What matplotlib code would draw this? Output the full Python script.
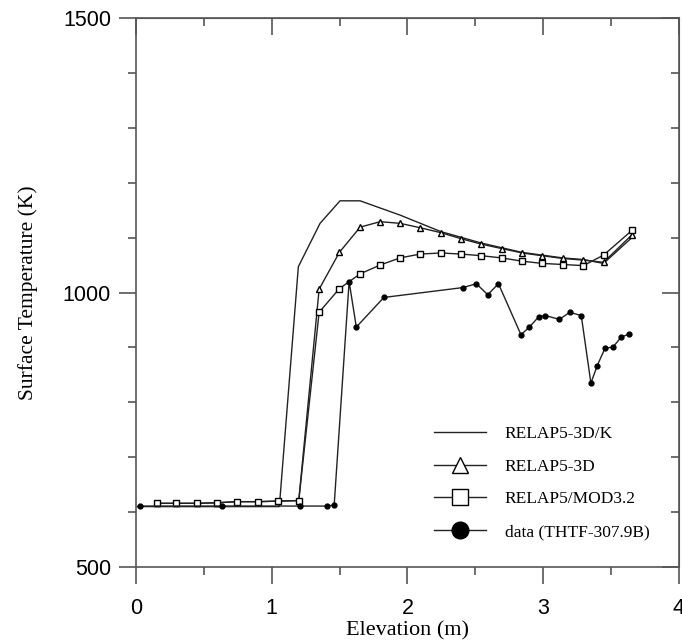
import matplotlib
matplotlib.use("Agg")
import matplotlib.pyplot as plt
from matplotlib.ticker import MultipleLocator

plt.rcParams['font.family'] = ['Liberation Sans', 'DejaVu Sans']

# RELAP5-3D/K (line only)
k_x = [0.01, 1.056, 1.196, 1.356, 1.503, 1.651, 1.945, 2.245, 2.545, 2.845,
       3.144, 3.296, 3.444, 3.653]
k_y = [610, 610, 1047, 1126, 1167, 1167, 1141, 1111, 1090, 1073,
       1063, 1060, 1053, 1100]

# node elevations of the code runs
node_x = [0.152, 0.295, 0.447, 0.594, 0.744, 0.897, 1.046, 1.199, 1.349, 1.498,
          1.651, 1.798, 1.945, 2.093, 2.245, 2.395, 2.545, 2.695, 2.845, 2.992,
          3.144, 3.296, 3.444, 3.653]
r3d_y = [616, 616, 616, 617, 619, 619, 620, 621, 1006, 1073,
         1119, 1129, 1126, 1118, 1109, 1098, 1088, 1080, 1072, 1067,
         1062, 1059, 1055, 1105]
mod32_y = [616, 616, 616, 617, 619, 619, 620, 621, 964, 1007,
           1034, 1050, 1063, 1070, 1072, 1070, 1067, 1063, 1057, 1053,
           1051, 1049, 1068, 1113]

# measured data THTF-307.9B
data_x = [0.03, 0.63, 1.21, 1.41, 1.46, 1.57, 1.623, 1.826, 2.409, 2.507,
          2.591, 2.670, 2.836, 2.897, 2.968, 3.016, 3.119, 3.195, 3.280, 3.351,
          3.398, 3.454, 3.515, 3.575, 3.631]
data_y = [611, 611, 611, 611, 613, 1020, 937, 991, 1009, 1016,
          996, 1016, 923, 937, 956, 958, 951, 964, 958, 835,
          867, 898, 901, 919, 924]

labels = ["RELAP5-3D/K", "RELAP5-3D", "RELAP5/MOD3.2", "data (THTF-307.9B)"]

fig = plt.figure(figsize=(6.82, 6.43), dpi=100)
ax = fig.add_axes([0.1994, 0.1182, 0.7962, 0.8538])

lc = '#222222'
ax.plot(k_x, k_y, '-', color=lc, lw=1.0, label=labels[0])
ax.plot(node_x, r3d_y, '-', color=lc, lw=1.0, marker='^', ms=5,
        mfc='white', mec='black', mew=1.0, label=labels[1])
ax.plot(node_x, mod32_y, '-', color=lc, lw=1.0, marker='s', ms=4.5,
        mfc='white', mec='black', mew=1.0, label=labels[2])
ax.plot(data_x, data_y, '-', color=lc, lw=1.0, marker='o', ms=3.5,
        mfc='black', mec='black', label=labels[3])

ax.set_xlim(0, 4)
ax.set_ylim(500, 1500)
ax.set_xticks([0, 1, 2, 3, 4])
ax.set_yticks([500, 1000, 1500])
ax.xaxis.set_minor_locator(MultipleLocator(0.5))
ax.yaxis.set_minor_locator(MultipleLocator(100))

spc = '#555555'
for s in ax.spines.values():
    s.set_color(spc)
    s.set_linewidth(1.2)

ax.tick_params(which='both', direction='out', top=False, right=False,
               color=spc, width=1.2, labelsize=15.5)
ax.tick_params(which='major', length=12)
ax.tick_params(which='minor', length=6)
ax.tick_params(axis='x', pad=10)
ax.tick_params(axis='y', pad=6)

# inward ticks on the top and right sides
top = ax.secondary_xaxis('top')
top.set_xticks([0, 1, 2, 3, 4])
top.xaxis.set_minor_locator(MultipleLocator(0.5))
top.tick_params(which='both', direction='in', labeltop=False, color=spc, width=1.2)
top.tick_params(which='major', length=12)
top.tick_params(which='minor', length=6)
top.spines['top'].set_color(spc)

right = ax.secondary_yaxis('right')
right.set_yticks([500, 1000, 1500])
right.yaxis.set_minor_locator(MultipleLocator(100))
right.tick_params(which='both', direction='in', labelright=False, color=spc, width=1.2)
right.tick_params(which='major', length=12)
right.tick_params(which='minor', length=6)
right.spines['right'].set_color(spc)

ax.set_xlabel("Elevation (m)", family='Liberation Serif', fontsize=16, labelpad=2)
ax.set_ylabel("Surface Temperature (K)", family='Liberation Serif', fontsize=15.5,
              labelpad=18)

leg = ax.legend(loc='upper left', bbox_to_anchor=(0.548, 0.257), frameon=False,
                prop={'family': 'Liberation Serif', 'size': 12.5},
                handlelength=3.0, handletextpad=1.1, labelspacing=0.95,
                borderpad=0, borderaxespad=0)
for h in leg.legend_handles:
    h.set_markersize(12)

fig.savefig("out.png", dpi=100)
